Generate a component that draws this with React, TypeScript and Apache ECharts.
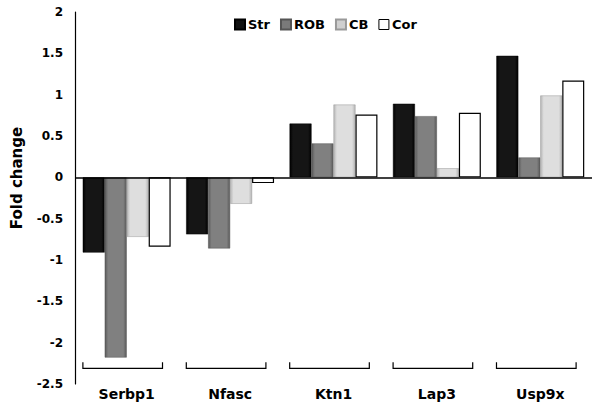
import React, { useEffect, useRef } from "react";
import * as echarts from "echarts";

const categories = ["Serbp1", "Nfasc", "Ktn1", "Lap3", "Usp9x"];
const strValues = [-0.91, -0.69, 0.65, 0.89, 1.47];
const robValues = [-2.18, -0.86, 0.41, 0.74, 0.24];
const cbValues = [-0.72, -0.32, 0.88, 0.11, 0.99];
const corValues = [-0.84, -0.07, 0.76, 0.78, 1.17];
const bracketLevel = -2.31;
const yTitle = "Fold change";

const FONT = "DejaVu Sans";

function grad(edge: string, mid: string) {
  return new echarts.graphic.LinearGradient(0, 0, 1, 0, [
    { offset: 0, color: edge },
    { offset: 0.15, color: mid },
    { offset: 0.85, color: mid },
    { offset: 1, color: edge },
  ]);
}

export default function App() {
  const ref = useRef<HTMLDivElement>(null);
  useEffect(() => {
    if (!ref.current) return;
    const chart = echarts.init(ref.current, undefined, { renderer: "svg" });
    const barBase = {
      type: "bar" as const,
      barGap: "0%",
      barCategoryGap: "15%",
    };
    chart.setOption({
      animation: false,
      backgroundColor: "#fff",
      textStyle: { fontFamily: FONT },
      graphic: [
        {
          type: "text",
          x: 17,
          y: 178,
          rotation: Math.PI / 2,
          style: {
            text: yTitle,
            align: "center",
            verticalAlign: "middle",
            fontFamily: FONT,
            fontWeight: "bold",
            fontSize: 15,
            fill: "#000",
          },
        },
      ],
      legend: {
        top: 13,
        left: 229,
        itemWidth: 10,
        itemHeight: 10,
        itemGap: 10,
        textStyle: { fontFamily: FONT, fontWeight: "bold", fontSize: 13, color: "#000", padding: [0, 0, 0, -2] },
        data: [
          { name: "Str", icon: "rect", itemStyle: { color: "#111" } },
          { name: "ROB", icon: "rect", itemStyle: { color: "#7a7a7a" } },
          { name: "CB", icon: "rect", itemStyle: { color: "#cfcfcf" } },
          { name: "Cor", icon: "rect", itemStyle: { color: "#fff", borderColor: "#000", borderWidth: 1 } },
        ],
      },
      grid: { left: 75, right: 8, top: 12, bottom: 25 },
      xAxis: {
        type: "category",
        data: categories,
        axisLine: { show: false, onZero: false },
        axisTick: { show: false },
        axisLabel: { fontFamily: FONT, fontWeight: "bold", fontSize: 14, color: "#000", margin: 3 },
      },
      yAxis: {
        type: "value",
        min: -2.5,
        max: 2,
        interval: 0.5,
        axisLine: { show: true, lineStyle: { color: "#000", width: 1.2 } },
        axisTick: { show: false },
        splitLine: { show: false },
        axisLabel: { fontFamily: FONT, fontWeight: "bold", fontSize: 12, color: "#000", margin: 12 },
      },
      series: [
        {
          ...barBase,
          name: "Str",
          data: strValues,
          itemStyle: { color: grad("#000", "#151515"), borderColor: "#000", borderWidth: 0.5 },
          markLine: {
            silent: true,
            symbol: "none",
            label: { show: false },
            lineStyle: { color: "#000", type: "solid", width: 1.5 },
            data: [{ yAxis: 0 }],
          },
        },
        {
          ...barBase,
          name: "ROB",
          data: robValues,
          itemStyle: { color: grad("#5a5a5a", "#808080"), borderColor: "#555", borderWidth: 0.5 },
        },
        {
          ...barBase,
          name: "CB",
          data: cbValues,
          itemStyle: { color: grad("#b5b5b5", "#dedede"), borderColor: "#999", borderWidth: 0.5 },
        },
        {
          ...barBase,
          name: "Cor",
          data: corValues,
          itemStyle: { color: "#fff", borderColor: "#000", borderWidth: 1.2 },
        },
        {
          type: "custom",
          name: "brackets",
          silent: true,
          data: categories.map((_, i) => [i, bracketLevel]),
          renderItem: (params: any, api: any) => {
            const c = api.coord([api.value(0), api.value(1)]);
            const half = api.size([1, 0])[0] * 0.385;
            const x0 = c[0] - half - 4;
            const x1 = c[0] + half - 4;
            return {
              type: "polyline",
              shape: { points: [[x0, c[1] - 6], [x0, c[1]], [x1, c[1]], [x1, c[1] - 6]] },
              style: { stroke: "#000", fill: "none", lineWidth: 1.2 },
            };
          },
        },
      ],
    });
    return () => chart.dispose();
  }, []);
  return (
    <div
      ref={ref}
      style={{ position: "absolute", left: 0, top: 0, width: 600, height: 409 }}
    />
  );
}
